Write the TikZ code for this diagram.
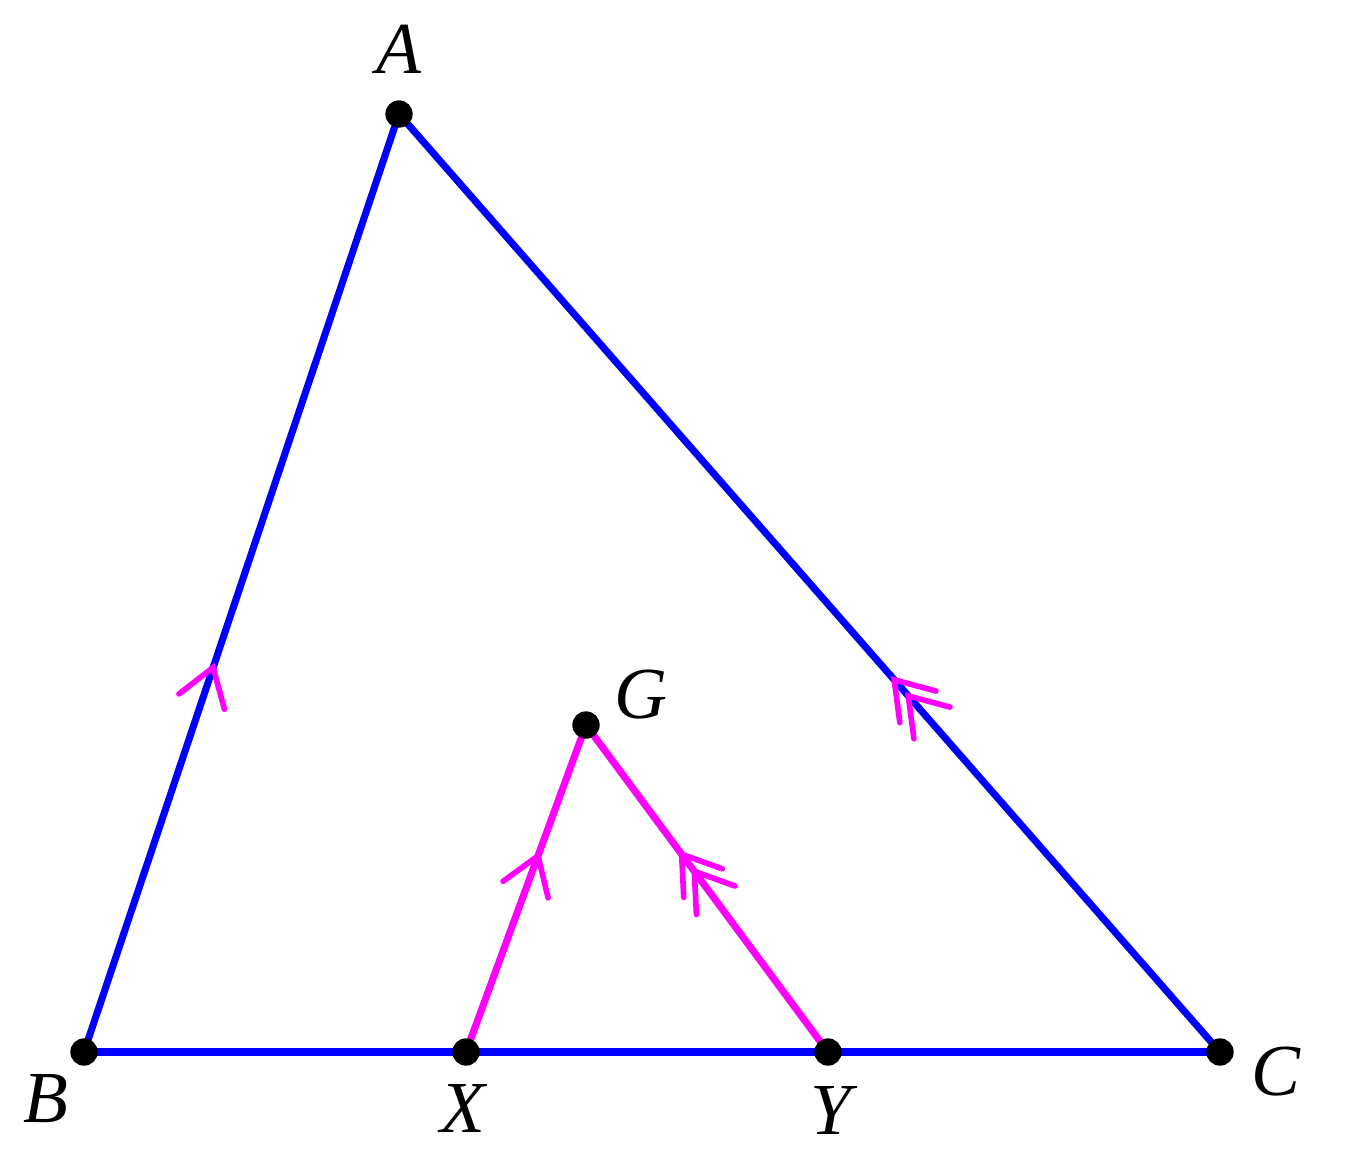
\documentclass[tikz,border=0pt]{standalone}
\usepackage{fontspec}
\setmainfont{Liberation Serif}
\usetikzlibrary{decorations.markings}
\definecolor{lineblue}{RGB}{0,0,255}
\definecolor{linemag}{RGB}{255,0,255}
\tikzset{
  side/.style={draw=lineblue,line width=5.3pt},
  seg/.style={draw=linemag,line width=5.3pt},
  dot/.style={circle,fill=black,inner sep=0pt,minimum size=20.5pt},
  lab/.style={font=\fontsize{55}{60}\selectfont\itshape,inner sep=0pt},
  chevone/.style={postaction={decorate,decoration={markings,
    mark=at position #1 with {\draw[linemag,line width=4.2pt,line cap=round,line join=miter] (-27pt,18pt) -- (0,0) -- (-27pt,-18pt);}}}},
  chevtwo/.style={postaction={decorate,decoration={markings,
    mark=at position #1 with {\draw[linemag,line width=4.2pt,line cap=round,line join=miter] (-27pt,18pt) -- (0,0) -- (-27pt,-18pt);
      \draw[linemag,line width=4.2pt,line cap=round,line join=miter] (-43pt,18pt) -- (-16pt,0) -- (-43pt,-18pt);}}}}
}
\begin{document}
\begin{tikzpicture}[x=0.75pt,y=-0.75pt]
\useasboundingbox (0,0) rectangle (1351,1164);
\fill[white] (0,0) rectangle (1351,1164);
\coordinate (A) at (399,114);
\coordinate (B) at (84,1052);
\coordinate (C) at (1220,1052);
\coordinate (X) at (466,1052);
\coordinate (Y) at (828,1052);
\coordinate (G) at (586,725);
\path[side,chevone=0.41] (B) -- (A);
\path[side,chevtwo=0.397] (C) -- (A);
\draw[side] (B) -- (C);
\path[seg,chevone=0.6] (X) -- (G);
\path[seg,chevtwo=0.605] (Y) -- (G);
\node[dot] (nA) at (A) {};
\node[dot] (nB) at (B) {};
\node[dot] (nC) at (C) {};
\node[dot] (nX) at (X) {};
\node[dot] (nY) at (Y) {};
\node[dot] (nG) at (G) {};
\node[lab] (lA) at (399,49) {A};
\node[lab] (lB) at (46,1099) {B};
\node[lab] (lC) at (1276,1072) {C};
\node[lab] (lX) at (463,1108) {X};
\node[lab] (lY) at (831,1110) {Y};
\node[lab] (lG) at (641,695) {G};
\end{tikzpicture}
\end{document}
